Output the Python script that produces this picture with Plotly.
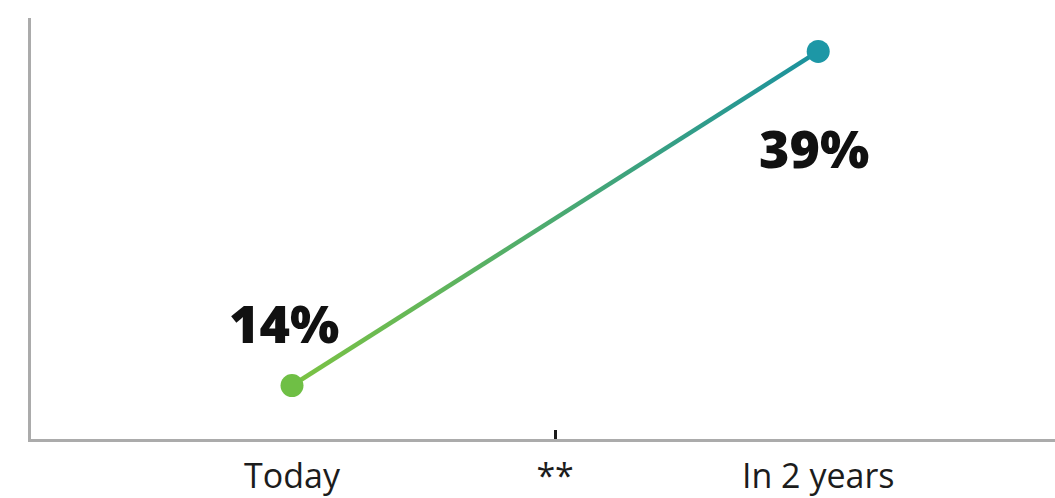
import plotly.graph_objects as go

# Data
categories = ["Today", "**", "In 2 years"]
point_labels = ["Today", "In 2 years"]
point_values = [14, 39]

GREEN = "#6fbf45"
TEAL = "#1d97a6"
AXIS_GREY = "#ababab"
TEXT = "#1c1c1c"

half_width = 0.2  # half thickness of the connecting stroke, in y units

fig = go.Figure()

# Connecting stroke drawn as a thin band with a left-to-right colour gradient
fig.add_trace(go.Scatter(
    x=point_labels, y=[v - half_width for v in point_values],
    mode="lines", line=dict(width=0, color="rgba(0,0,0,0)"),
    hoverinfo="skip", showlegend=False,
))
fig.add_trace(go.Scatter(
    x=point_labels, y=[v + half_width for v in point_values],
    mode="lines", line=dict(width=0, color="rgba(0,0,0,0)"),
    fill="tonexty",
    fillgradient=dict(type="horizontal",
                      colorscale=[[0, "#7cc342"], [1, "#1a919f"]]),
    hoverinfo="skip", showlegend=False,
))

# End points
fig.add_trace(go.Scatter(
    x=point_labels, y=point_values, mode="markers",
    marker=dict(size=23, color=[GREEN, TEAL], line=dict(width=0)),
    showlegend=False,
))

# Value labels
offsets = [(-8, 63), (-4, -96)]
for lab, val, (dx, dy) in zip(point_labels, point_values, offsets):
    fig.add_annotation(
        x=lab, y=val, text=f"{val}%", showarrow=False,
        xshift=dx, yshift=dy,
        font=dict(family="Open Sans", size=52, color="#111111", weight=800),
    )

x_range = [-0.992, 2.9]

fig.update_layout(
    width=1055, height=498,
    margin=dict(l=31, r=0, t=18, b=59),
    paper_bgcolor="white", plot_bgcolor="white",
    xaxis=dict(
        type="category", categoryorder="array", categoryarray=categories,
        range=x_range, showgrid=False, zeroline=False,
        showline=True, linecolor=AXIS_GREY, linewidth=2.5,
        ticks="", tickfont=dict(family="Open Sans", size=34, color=TEXT),
        ticklabelstandoff=5,
    ),
    xaxis2=dict(
        type="category", categoryorder="array", categoryarray=categories,
        range=x_range, overlaying="x", matches="x", showgrid=False,
        zeroline=False, showline=False,
        tickvals=["**"], ticks="inside", ticklen=9, tickwidth=2.5,
        tickcolor="#1a1a1a", showticklabels=False, side="bottom",
    ),
    yaxis=dict(
        range=[10, 41.5], showgrid=False, zeroline=False,
        showline=True, linecolor=AXIS_GREY, linewidth=2.5,
        showticklabels=False, ticks="",
    ),
)

# Invisible trace to activate the secondary x axis that carries the middle tick
fig.add_trace(go.Scatter(x=["**"], y=[None], xaxis="x2", showlegend=False,
                         hoverinfo="skip"))

fig.write_html("out.html")
